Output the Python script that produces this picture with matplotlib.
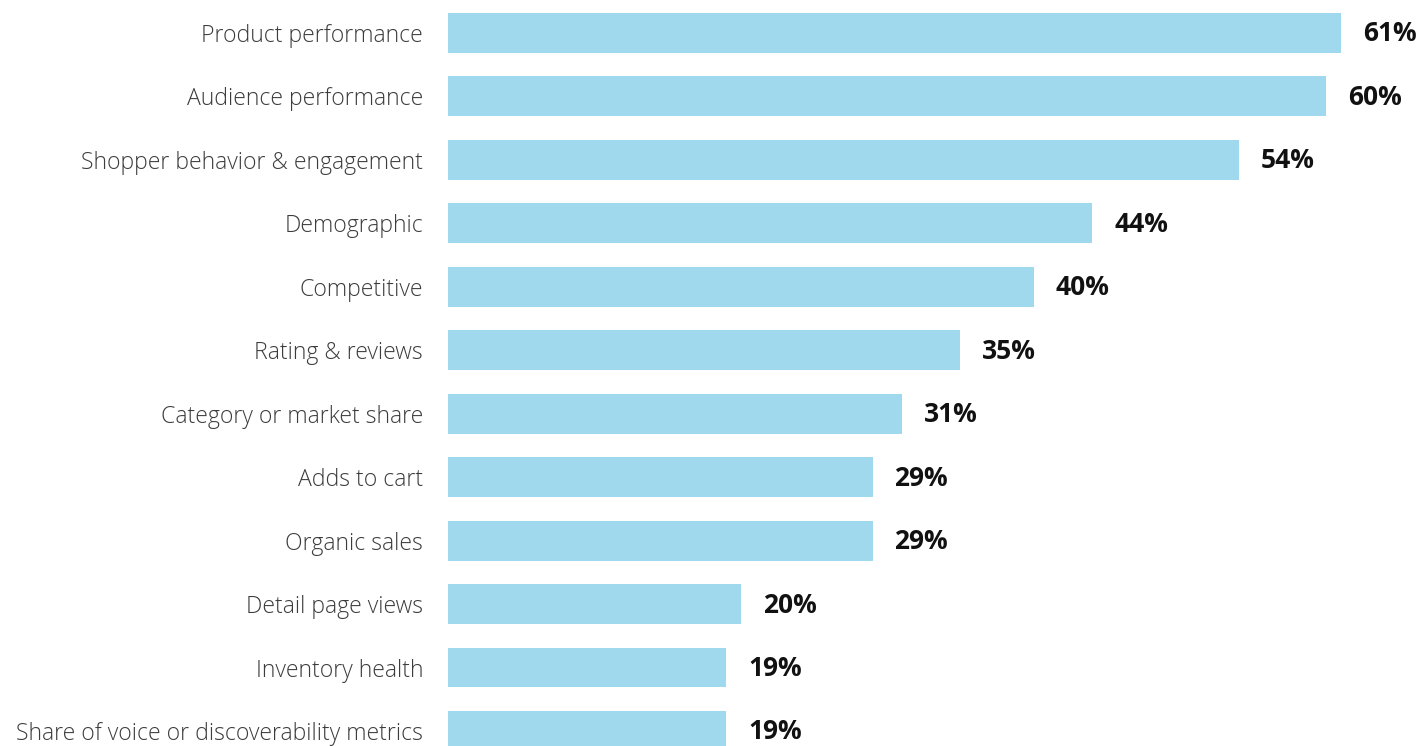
import matplotlib
matplotlib.use("Agg")
import matplotlib.pyplot as plt

categories = [
    "Product performance",
    "Audience performance",
    "Shopper behavior & engagement",
    "Demographic",
    "Competitive",
    "Rating & reviews",
    "Category or market share",
    "Adds to cart",
    "Organic sales",
    "Detail page views",
    "Inventory health",
    "Share of voice or discoverability metrics",
]
values = [61, 60, 54, 44, 40, 35, 31, 29, 29, 20, 19, 19]

BAR_COLOR = "#a0d8ee"
LABEL_COLOR = "#3c3c3c"

W, H = 1422, 746
fig = plt.figure(figsize=(W / 100, H / 100), dpi=100)
left_px, right_px = 448, 1341
ax = fig.add_axes([left_px / W, 0, (right_px - left_px) / W, 1])

y = list(range(len(categories)))
ax.barh(y, values, height=0.63, color=BAR_COLOR, edgecolor="none")
ax.set_xlim(0, max(values))
ax.set_ylim(11.237, -0.52)
ax.axis("off")

for yi, cat, v in zip(y, categories, values):
    ax.annotate(cat, xy=(0, yi), xytext=(-25, -3), textcoords="offset pixels",
                ha="right", va="center", fontsize=16.6, color=LABEL_COLOR,
                family="Open Sans", fontweight="light", annotation_clip=False)
    ax.annotate(f"{v}%", xy=(v, yi), xytext=(22, -1), textcoords="offset pixels",
                ha="left", va="center", fontsize=19, color="#111111",
                family="Open Sans", fontweight="bold", annotation_clip=False)

fig.savefig("out.png", dpi=100, facecolor="white")
